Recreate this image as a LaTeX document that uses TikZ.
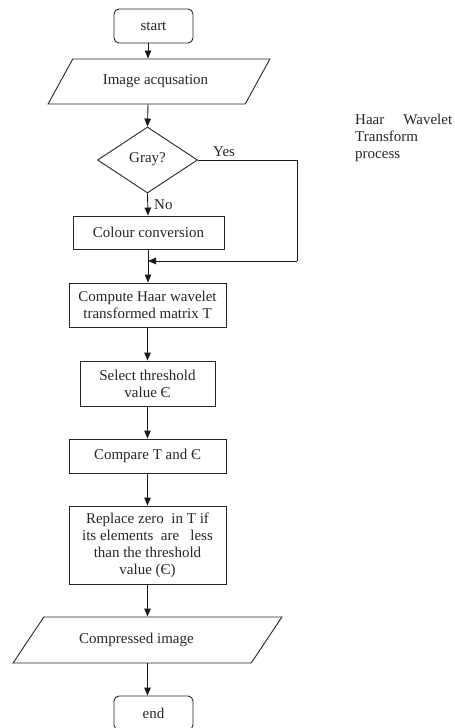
\documentclass[tikz,border=0pt]{standalone}
\usepackage{fontspec}
\setmainfont{Liberation Serif}
\usetikzlibrary{shapes.geometric,arrows.meta}
\tikzset{
  every node/.style={font=\fontsize{15}{17}\selectfont, text=black!85, inner sep=0pt},
  shp/.style={draw=black!85, line width=0.9pt},
  boxnode/.style={shp, rectangle, align=center},
  term/.style={shp, rectangle, rounded corners=5pt, minimum width=79pt, minimum height=34pt},
  io/.style={shp, trapezium, trapezium stretches=true},
  arr/.style={draw=black!90, line width=0.9pt, -{Triangle[length=8pt,width=6.5pt]}},
  ln/.style={draw=black!90, line width=0.9pt},
}
\begin{document}
\begin{tikzpicture}[x=1pt,y=-1pt]
\useasboundingbox (0,0) rectangle (455,728);
\node[term] (start) at (153.5,26) {start};
\node[io, trapezium left angle=39.3, trapezium right angle=140.7, minimum width=222pt, minimum height=45pt] (acq) at (159,81.5) {Image acqusation\hspace*{7pt}};
\node[shp, diamond, minimum width=100pt, minimum height=66pt] (dia) at (147.5,160) {\raisebox{4pt}{Gray?}};
\node[boxnode, minimum width=151pt, minimum height=33pt] (col) at (148.5,232.5) {Colour conversion};
\coordinate (j) at (148,261);
\coordinate (yc) at (297,160);
\coordinate (yd) at (297,261);
\node[boxnode, minimum width=157pt, minimum height=44pt] (comp) at (147.5,305) {Compute Haar wavelet\\transformed matrix T};
\node[boxnode, minimum width=135pt, minimum height=45pt] (sel) at (147.5,383.5) {Select threshold\\value Є};
\node[boxnode, minimum width=157pt, minimum height=34pt] (cmp) at (147.5,456) {Compare T and Є};
\node[boxnode, minimum width=157pt, minimum height=78pt] (rep) at (147.5,545) {Replace zero\ \ in T if\\its elements\ \ are\ \ \ less\\than the threshold\\value (Є)};
\node[io, trapezium left angle=34, trapezium right angle=146, minimum width=269pt, minimum height=46pt] (out) at (147.5,640) {Compressed image\hspace*{22pt}};
\node[term] (end) at (153.5,713) {end};
\node[anchor=base west] (yes) at (213,156) {Yes};
\node[anchor=base west] (no) at (154,209) {No};
\node[anchor=north west, align=left, text width=97pt] (haar) at (355,114) {\hbox to 97pt{Haar\hfill Wavelet}\\Transform\\process};
\draw[arr] (start.south -| j) -- (j |- acq.north);
\draw[arr] (j |- acq.south) -- (dia.north);
\draw[arr] (dia.south) -- (j |- col.north);
\draw[ln] (dia.east) -- (yc) -- (yd);
\draw[arr] (yd) -- (j);
\draw[ln] (j |- col.south) -- (j);
\draw[arr] (j) -- (j |- comp.north);
\draw[arr] (comp.south) -- (sel.north);
\draw[arr] (sel.south) -- (cmp.north);
\draw[arr] (cmp.south) -- (rep.north);
\draw[arr] (rep.south) -- (out.north -| rep.south);
\draw[arr] (out.south -| rep.south) -- (end.north -| rep.south);
\end{tikzpicture}
\end{document}
